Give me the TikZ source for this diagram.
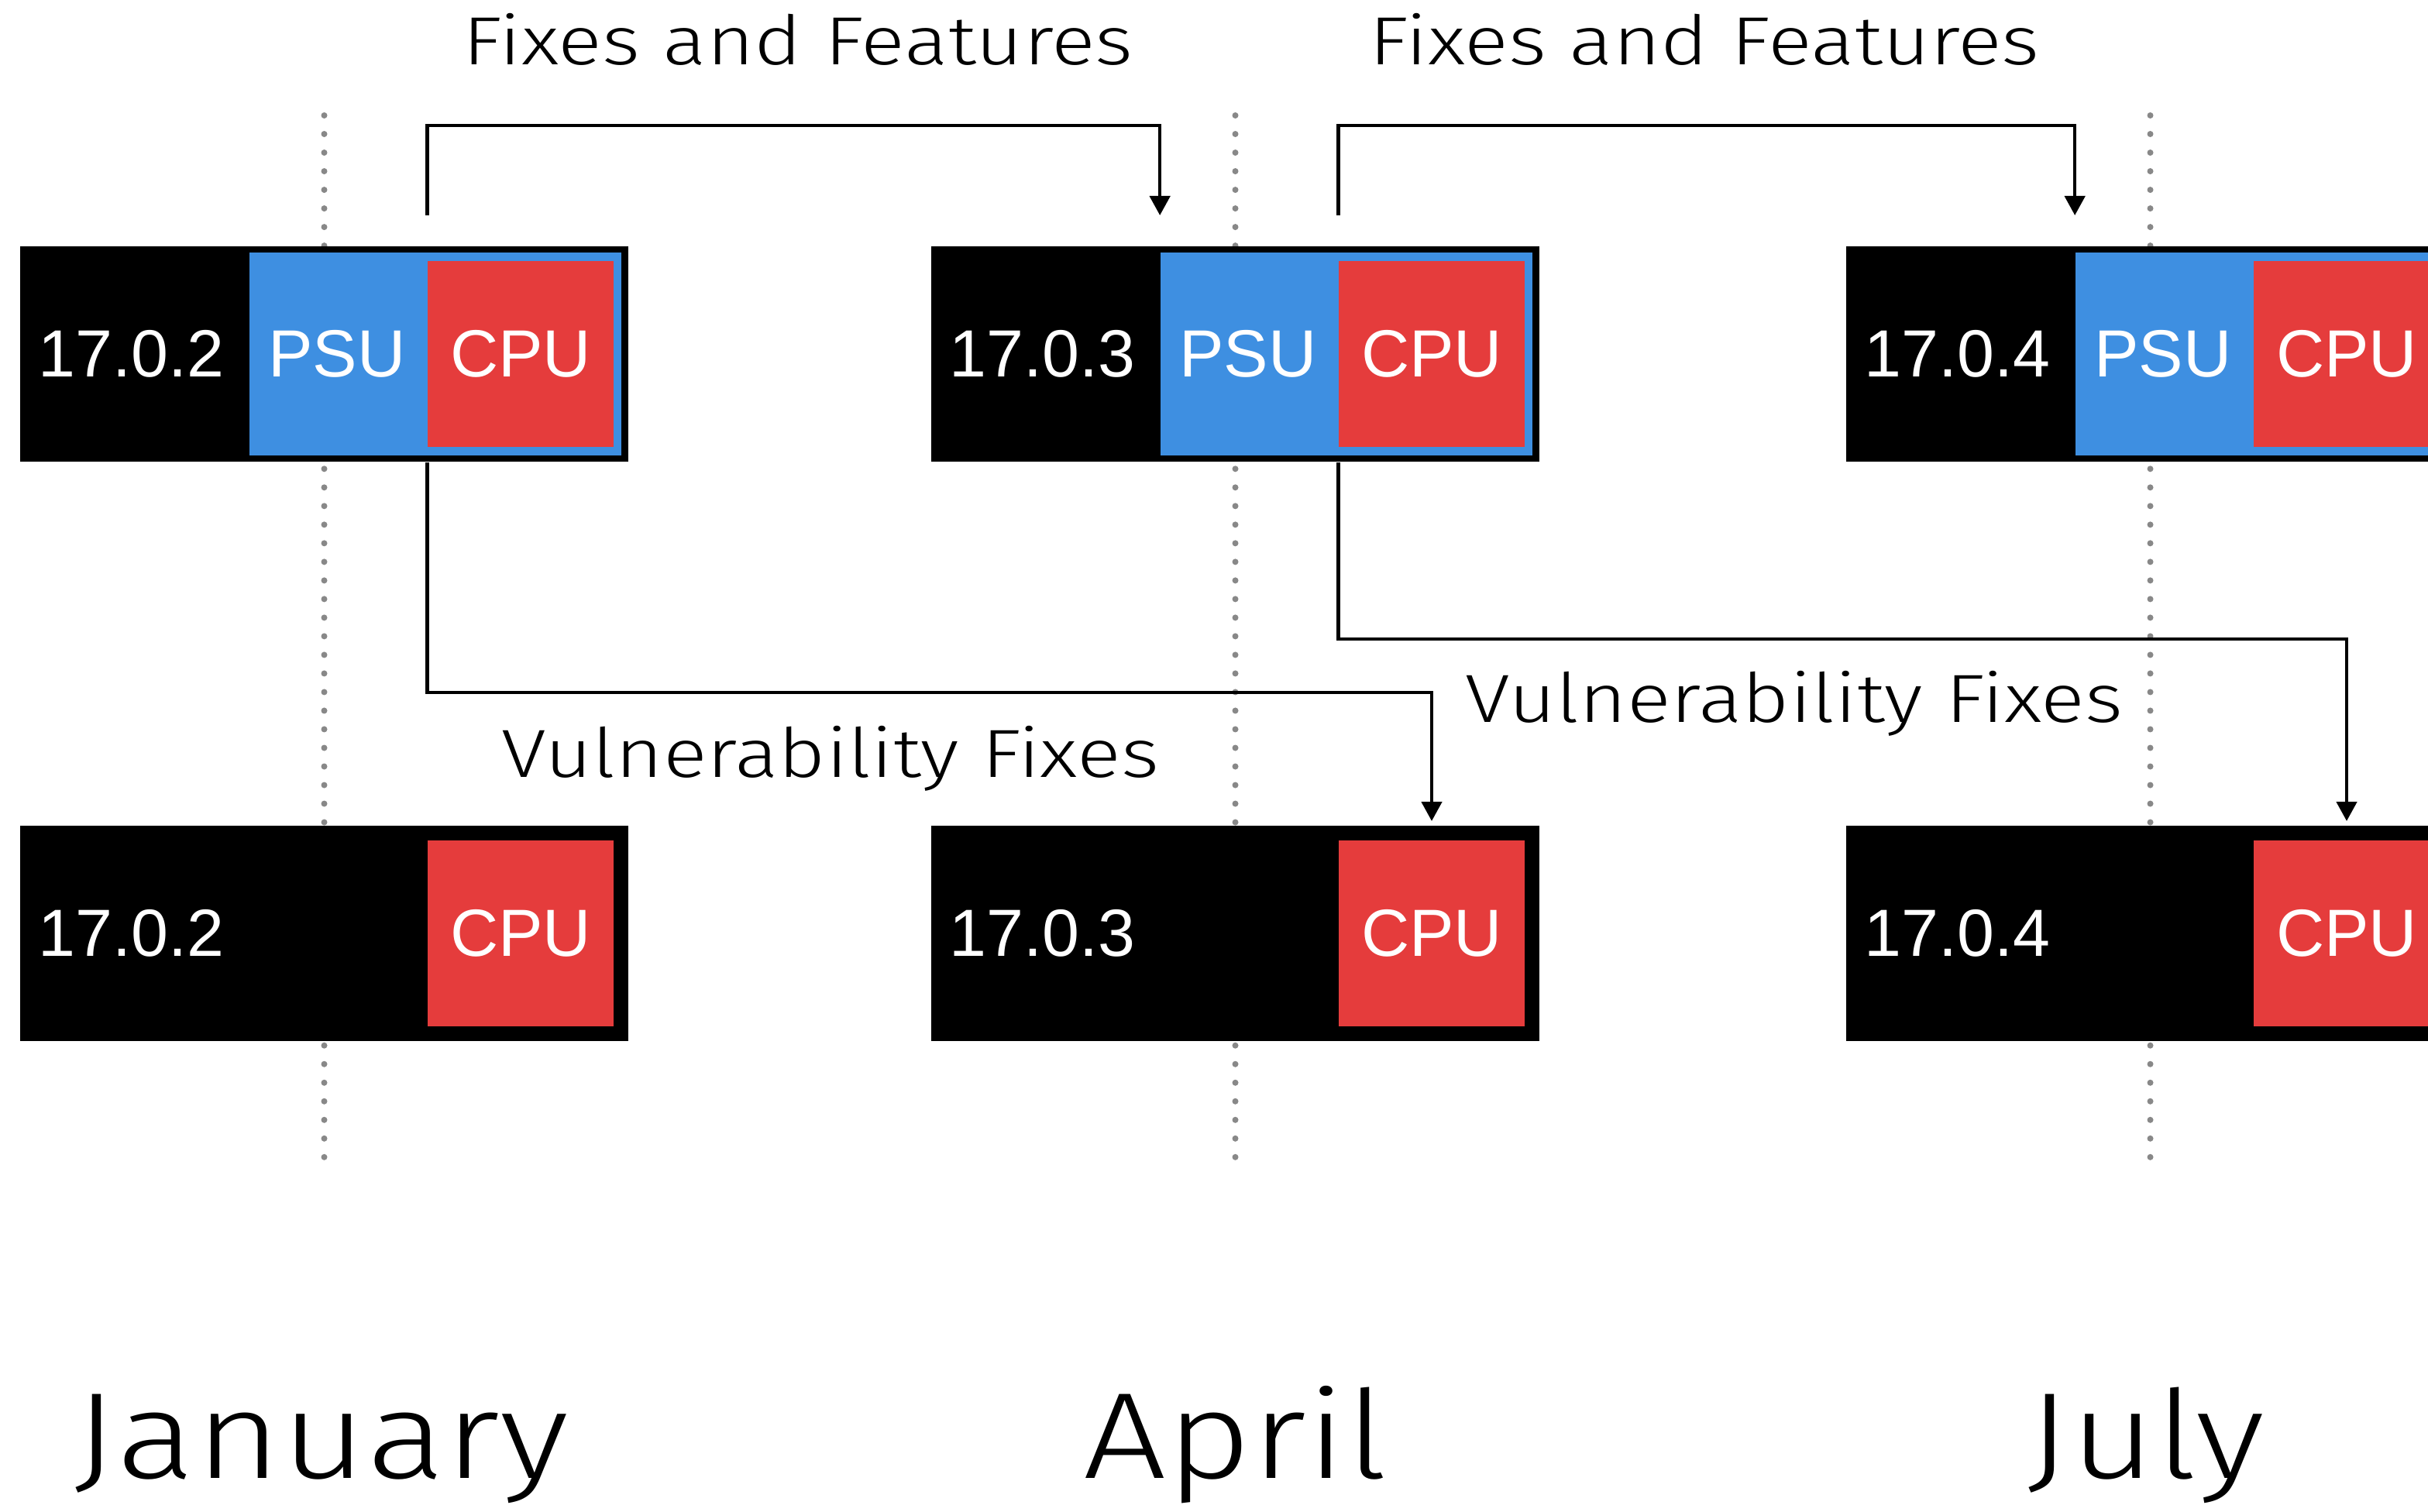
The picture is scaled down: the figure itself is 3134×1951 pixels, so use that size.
\documentclass[tikz,border=0pt]{standalone}
\usepackage{fontspec}
\setmainfont{Liberation Sans}
\newfontfamily\thinfont{Fira Sans Light}[FakeStretch = 1.2]
\usetikzlibrary{arrows.meta}

\definecolor{psublue}{RGB}{62,143,225}
\definecolor{cpured}{RGB}{229,60,60}
\definecolor{dotgray}{RGB}{136,136,136}

\tikzset{
	release/.style = {fill = black, minimum width = 7.85cm, minimum height = 2.78cm, inner sep = 0pt},
	psubox/.style = {fill = psublue, minimum width = 4.8cm, minimum height = 2.62cm, inner sep = 0pt},
	cpubox/.style = {fill = cpured, minimum width = 2.4cm, minimum height = 2.4cm, inner sep = 0pt},
	boxtext/.style = {text = white, font = \fontsize{24.5}{24.5}\selectfont, inner sep = 0pt},
	flow/.style = {line width = 1.3pt, -{Triangle[length = 0.25cm, width = 0.26cm]}},
	flowlabel/.style = {font = \thinfont\fontsize{25}{25}\selectfont, inner sep = 0pt, anchor = base},
	month/.style = {font = \thinfont\fontsize{45}{45}\selectfont, inner sep = 0pt, anchor = base},
	timeline/.style = {dotgray, line width = 0.08cm, line cap = round, dash pattern = on 0pt off 0.24cm}
}

\begin{document}
\begin{tikzpicture}[x = 0.01cm, y = -0.01cm]

	\useasboundingbox (0, 0) rectangle (3134, 1951);
	\clip (0, 0) rectangle (3134, 1951);

	% Timelines

	\draw [timeline] (418.5, 149) -- (418.5, 1517);
	\draw [timeline] (1594.5, 149) -- (1594.5, 1517);
	\draw [timeline] (2775.5, 149) -- (2775.5, 1517);

	% January

	\node [release] (rel1) at (418.5, 457) {};
	\node [psubox] (psu1) at (562, 457) {};
	\node [cpubox] (cpu1) at (672, 457) {};
	\node [boxtext, anchor = west] (ver1) at (49, 457) {17.0.2};
	\node [boxtext] (psutext1) at (435, 457) {PSU};
	\node [boxtext] (cputext1) at (cpu1) {CPU};

	\node [release] (sec1) at (418.5, 1205) {};
	\node [cpubox] (scpu1) at (672, 1205) {};
	\node [boxtext, anchor = west] (sver1) at (49, 1205) {17.0.2};
	\node [boxtext] (scputext1) at (scpu1) {CPU};

	% April

	\node [release] (rel2) at (1594.5, 457) {};
	\node [psubox] (psu2) at (1738, 457) {};
	\node [cpubox] (cpu2) at (1848, 457) {};
	\node [boxtext, anchor = west] (ver2) at (1225, 457) {17.0.3};
	\node [boxtext] (psutext2) at (1611, 457) {PSU};
	\node [boxtext] (cputext2) at (cpu2) {CPU};

	\node [release] (sec2) at (1594.5, 1205) {};
	\node [cpubox] (scpu2) at (1848, 1205) {};
	\node [boxtext, anchor = west] (sver2) at (1225, 1205) {17.0.3};
	\node [boxtext] (scputext2) at (scpu2) {CPU};

	% July

	\node [release] (rel3) at (2775.5, 457) {};
	\node [psubox] (psu3) at (2919, 457) {};
	\node [cpubox] (cpu3) at (3029, 457) {};
	\node [boxtext, anchor = west] (ver3) at (2406, 457) {17.0.4};
	\node [boxtext] (psutext3) at (2792, 457) {PSU};
	\node [boxtext] (cputext3) at (cpu3) {CPU};

	\node [release] (sec3) at (2775.5, 1205) {};
	\node [cpubox] (scpu3) at (3029, 1205) {};
	\node [boxtext, anchor = west] (sver3) at (2406, 1205) {17.0.4};
	\node [boxtext] (scputext3) at (scpu3) {CPU};

	% Fixes and Features

	\coordinate (ffbar) at (0, 162);
	\coordinate (ffend) at (0, 278);

	\draw [flow] (cpu1.west |- ffend) -- (cpu1.west |- ffbar) -| (psu2.west |- ffend);
	\draw [flow] (cpu2.west |- ffend) -- (cpu2.west |- ffbar) -| (psu3.west |- ffend);

	\node [flowlabel] (ff1) at (1030, 83) {Fixes and Features};
	\node [flowlabel] (ff2) at (2200, 83) {Fixes and Features};

	% Vulnerability Fixes

	\coordinate (vfbar1) at (0, 894);
	\coordinate (vfbar2) at (0, 825);
	\coordinate (vfend) at (0, 1060);

	\draw [flow] (cpu1.west |- rel1.south) -- (cpu1.west |- vfbar1) -| (scpu2.north |- vfend);
	\draw [flow] (cpu2.west |- rel2.south) -- (cpu2.west |- vfbar2) -| (scpu3.north |- vfend);

	\node [flowlabel] (vf1) at (1072, 1003) {Vulnerability Fixes};
	\node [flowlabel] (vf2) at (2316, 932) {Vulnerability Fixes};

	% Months

	\node [month] (jan) at (415, 1908) {January};
	\node [month] (apr) at (1595, 1908) {April};
	\node [month] (jul) at (2770, 1908) {July};

\end{tikzpicture}
\end{document}
